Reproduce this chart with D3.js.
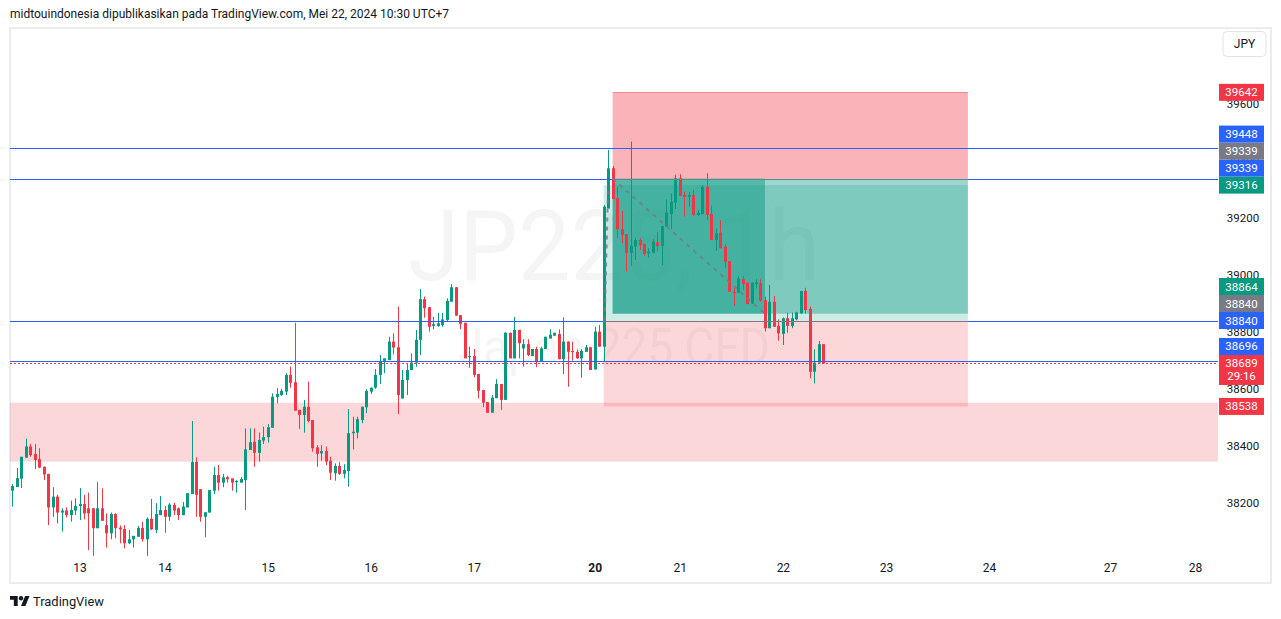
<!DOCTYPE html>
<html><head><meta charset="utf-8">
<script src="https://cdn.jsdelivr.net/npm/d3@7"></script>
<style>
html,body{margin:0;padding:0;background:#fff;overflow:hidden}
svg{display:block}
text{font-family:"Trebuchet MS",Roboto,"Liberation Sans",sans-serif}
</style>
</head><body>
<svg id="c" width="1281" height="619"></svg>
<script>
// ---------- data ----------
const opens  = [38242,38255,38284,38358,38397,38371,38353,38326,38301,38183,38221,38165,38172,38156,38172,38188,38195,38180,38180,38110,38180,38121,38092,38160,38112,38107,38057,38071,38080,38111,38071,38143,38104,38156,38174,38150,38192,38180,38156,38183,38230,38343,38247,38150,38165,38242,38297,38270,38289,38285,38272,38270,38279,38385,38414,38375,38418,38430,38463,38571,38578,38590,38649,38623,38526,38508,38537,38490,38394,38373,38381,38347,38303,38329,38301,38311,38444,38446,38490,38535,38590,38604,38649,38698,38701,38766,38746,38566,38631,38666,38692,38772,38915,38887,38821,38821,38824,38842,38906,38957,38859,38832,38711,38715,38652,38596,38553,38516,38567,38617,38561,38797,38707,38807,38742,38757,38715,38740,38695,38740,38777,38787,38793,38704,38766,38733,38730,38707,38730,38746,38668,38801,38748,39234,39375,39270,39161,39144,39078,39100,39123,39109,39076,39078,39115,39102,39170,39214,39254,39340,39281,39275,39281,39211,39214,39310,39214,39123,39149,39100,39049,38941,38938,38985,38973,38900,38968,38971,38912,38813,38906,38821,38793,38848,38821,38844,38865,38944,38881,38660,38692,38757];
const highs  = [38265,38322,38361,38425,38406,38406,38391,38326,38301,38254,38227,38180,38183,38207,38215,38251,38227,38235,38180,38273,38250,38162,38165,38163,38120,38121,38104,38083,38118,38133,38148,38213,38198,38223,38188,38198,38200,38183,38202,38233,38487,38359,38247,38166,38244,38326,38332,38301,38294,38285,38279,38290,38461,38461,38461,38446,38467,38476,38584,38602,38600,38655,38678,38832,38526,38561,38625,38490,38402,38402,38397,38361,38338,38343,38335,38529,38502,38502,38537,38599,38604,38669,38719,38707,38783,38795,38889,38666,38690,38725,38807,38951,38924,38887,38853,38867,38867,38918,38968,38958,38859,38832,38748,38740,38652,38596,38553,38578,38634,38617,38799,38797,38853,38807,38774,38774,38740,38748,38748,38783,38809,38797,38809,38851,38766,38766,38738,38740,38754,38746,38818,38824,39246,39439,39383,39310,39225,39144,39469,39129,39129,39111,39094,39126,39152,39172,39266,39287,39352,39354,39293,39293,39299,39229,39316,39358,39243,39164,39193,39109,39049,38953,38997,38997,38973,38973,38985,38985,38924,38965,38926,38844,38851,38868,38868,38871,38944,38955,38889,38739,38768,38757];
const lows   = [38186,38255,38251,38358,38361,38318,38321,38279,38121,38150,38127,38098,38148,38133,38156,38139,38141,38033,38013,38110,38136,38042,38071,38075,38057,38039,38054,38042,38080,38063,38013,38104,38092,38156,38094,38136,38156,38139,38156,38183,38230,38150,38133,38078,38165,38230,38242,38254,38270,38242,38235,38270,38174,38385,38326,38344,38406,38411,38463,38549,38575,38578,38604,38523,38459,38446,38482,38379,38326,38347,38332,38279,38277,38297,38285,38256,38387,38426,38479,38514,38582,38600,38617,38655,38701,38721,38511,38566,38578,38666,38678,38719,38850,38801,38809,38818,38818,38836,38906,38857,38809,38707,38674,38641,38566,38535,38516,38516,38567,38526,38561,38707,38707,38707,38678,38715,38715,38676,38695,38740,38777,38785,38704,38652,38607,38699,38705,38639,38730,38666,38668,38748,38695,39234,39267,39129,39111,39012,39032,39053,39088,39067,39062,39076,39082,39035,39170,39161,39232,39278,39205,39240,39207,39207,39214,39193,39123,39085,39094,39024,38941,38892,38936,38947,38897,38898,38953,38906,38801,38813,38818,38769,38754,38797,38813,38841,38865,38865,38637,38619,38692,38689];
const closes = [38258,38286,38361,38397,38367,38350,38323,38299,38183,38221,38165,38172,38156,38174,38188,38195,38162,38162,38110,38180,38136,38092,38160,38110,38106,38057,38071,38083,38111,38071,38143,38106,38160,38174,38150,38193,38172,38156,38186,38233,38343,38227,38150,38166,38244,38297,38270,38289,38282,38270,38276,38283,38387,38412,38375,38420,38430,38465,38572,38582,38593,38649,38621,38523,38508,38537,38487,38391,38371,38381,38344,38305,38329,38301,38315,38444,38449,38493,38537,38593,38604,38649,38698,38707,38766,38745,38578,38631,38666,38692,38772,38915,38883,38818,38827,38830,38844,38909,38957,38857,38828,38707,38715,38649,38593,38551,38516,38569,38617,38561,38797,38707,38807,38760,38757,38719,38740,38695,38742,38783,38790,38797,38704,38766,38730,38729,38707,38733,38746,38666,38801,38748,39240,39375,39267,39161,39141,39078,39102,39123,39105,39074,39082,39117,39102,39172,39219,39258,39340,39278,39275,39281,39211,39219,39310,39211,39123,39147,39094,39047,38941,38936,38988,38968,38898,38973,38974,38910,38813,38906,38818,38795,38848,38821,38848,38868,38944,38877,38660,38692,38757,38689];

const dayIdx    = [15, 34, 57, 80, 103, 130, 149, 172, 195, 218, 245, 264];
const dayLabels = ["13","14","15","16","17","20","21","22","23","24","27","28"];
const boldDays  = ["20"];
const priceTicks = [38200, 38400, 38600, 38800, 39000, 39200, 39400, 39600];

const hLines    = [39448, 39339, 38840, 38696];   // blue horizontal lines
const zoneBand  = [38551, 38344];                 // pink support band
const lastPrice = 38689;
const countdown = "29:16";
// position tools: [entry, stop, target, startIdx, endIdx, exitIdx]
const shortPos  = [39339, 39642, 38864, 134, 213.3, 168];
const longPos   = [38840, 38538, 39316, 132, 213.3, 133];

const headerText = "midtouindonesia dipublikasikan pada TradingView.com, Mei 22, 2024 10:30 UTC+7";
const wmTitle = "JP225, 1h";
const wmSub   = "Japan 225 CFD";

// ---------- layout ----------
const UP = "#089981", DN = "#f23645", BLUE = "#2962ff", GRAY = "#787b86", TXT = "#131722";
const pane = {l: 10, r: 1218, t: 28, b: 557};
const svg = d3.select("#c");

const xs = d3.scaleLinear().domain([0, 181]).range([12.3, 823.2]);
const ys = d3.scaleLinear().domain([38200, 39600]).range([502.6, 104.3]);

// header
svg.append("text").attr("x", 10).attr("y", 18).attr("font-size", 13)
  .attr("fill", TXT).attr("textLength", 439).attr("lengthAdjust", "spacingAndGlyphs").text(headerText);

// frame
svg.append("rect").attr("x", 10).attr("y", 28).attr("width", 1261).attr("height", 555)
  .attr("fill", "#fff").attr("stroke", "#ebebf0").attr("stroke-width", 2);

svg.append("clipPath").attr("id", "pc").append("rect")
  .attr("x", pane.l).attr("y", pane.t).attr("width", pane.r - pane.l).attr("height", pane.b - pane.t);
const g = svg.append("g").attr("clip-path", "url(#pc)");

// watermark
const cx = (pane.l + pane.r) / 2;
g.append("text").attr("x", cx).attr("y", 280).attr("text-anchor", "middle")
  .attr("font-size", 99).attr("fill", "rgba(19,23,34,0.045)")
  .attr("textLength", 412).attr("lengthAdjust", "spacingAndGlyphs").text(wmTitle);
g.append("text").attr("x", cx).attr("y", 365).attr("text-anchor", "middle")
  .attr("font-size", 52).attr("fill", "rgba(19,23,34,0.045)")
  .attr("textLength", 312).attr("lengthAdjust", "spacingAndGlyphs").text(wmSub);

// pink band
g.append("rect").attr("x", pane.l).attr("width", pane.r - pane.l)
  .attr("y", ys(zoneBand[0])).attr("height", ys(zoneBand[1]) - ys(zoneBand[0]))
  .attr("fill", "rgba(242,54,69,0.2)");

function posRect(x0, x1, p0, p1, fill) {
  const ya = ys(Math.max(p0, p1)), yb = ys(Math.min(p0, p1));
  g.append("rect").attr("x", xs(x0)).attr("width", xs(x1) - xs(x0))
    .attr("y", ya).attr("height", yb - ya).attr("fill", fill);
}
// long position (alpha .2)
posRect(longPos[3], longPos[4], longPos[0], longPos[2], "rgba(8,153,129,0.2)");
posRect(longPos[3], longPos[4], longPos[0], longPos[1], "rgba(242,54,69,0.2)");
// short position (alpha .4)
posRect(shortPos[3], shortPos[4], shortPos[0], shortPos[1], "rgba(242,54,69,0.38)");
posRect(shortPos[3], shortPos[4], shortPos[0], shortPos[2], "rgba(8,153,129,0.4)");
posRect(shortPos[3], shortPos[5], shortPos[0], shortPos[2], "rgba(8,153,129,0.48)");
g.append("line").attr("x1", xs(shortPos[3])).attr("x2", xs(shortPos[4]))
  .attr("y1", Math.round(ys(shortPos[1])) + 0.5).attr("y2", Math.round(ys(shortPos[1])) + 0.5)
  .attr("stroke", "rgba(242,54,69,0.45)");

// candles
const data = opens.map((o, i) => ({i, o, h: highs[i], l: lows[i], c: closes[i]}));
const cg = g.append("g");
cg.selectAll("line.w").data(data).join("line")
  .attr("x1", d => Math.round(xs(d.i)) + 0.5).attr("x2", d => Math.round(xs(d.i)) + 0.5)
  .attr("y1", d => ys(d.h)).attr("y2", d => ys(d.l))
  .attr("stroke", d => d.c >= d.o ? UP : DN).attr("stroke-width", 1);
cg.selectAll("rect.b").data(data).join("rect")
  .attr("x", d => Math.round(xs(d.i)) - 1).attr("width", 3)
  .attr("y", d => ys(Math.max(d.o, d.c)))
  .attr("height", d => Math.max(1, Math.abs(ys(d.o) - ys(d.c))))
  .attr("fill", d => d.c >= d.o ? UP : DN);

// horizontal lines
hLines.forEach(p => {
  const y = Math.round(ys(p)) + 0.5;
  g.append("line").attr("x1", pane.l).attr("x2", pane.r).attr("y1", y).attr("y2", y)
    .attr("stroke", BLUE).attr("stroke-width", 1);
});
// entry lines of positions
[shortPos, longPos].forEach(ps => {
  const y = Math.round(ys(ps[0])) + 0.5;
  g.append("line").attr("x1", xs(ps[3])).attr("x2", xs(ps[4])).attr("y1", y).attr("y2", y)
    .attr("stroke", GRAY).attr("stroke-width", 1);
});
// trade path dashed lines
g.append("line").attr("x1", xs(shortPos[3])).attr("y1", ys(shortPos[0]))
  .attr("x2", xs(shortPos[5])).attr("y2", ys(shortPos[2]))
  .attr("stroke", "rgba(120,123,134,0.85)").attr("stroke-width", 2).attr("stroke-dasharray", "4,5");
g.append("line").attr("x1", xs(longPos[3]) + 1).attr("y1", ys(longPos[0]))
  .attr("x2", xs(longPos[5])).attr("y2", ys(longPos[2]))
  .attr("stroke", "rgba(120,123,134,0.85)").attr("stroke-width", 2).attr("stroke-dasharray", "4,5");

// last price dotted line
{
  const y = Math.round(ys(lastPrice)) + 0.5;
  g.append("line").attr("x1", pane.l).attr("x2", pane.r).attr("y1", y).attr("y2", y)
    .attr("stroke", DN).attr("stroke-width", 1.2).attr("stroke-dasharray", "2,2");
}

// time axis
const xAxis = d3.axisBottom(xs).tickValues(dayIdx).tickSize(0).tickPadding(0)
  .tickFormat((d, i) => dayLabels[i]);
const xa = svg.append("g").attr("transform", "translate(0,563)").call(xAxis);
xa.select(".domain").remove();
xa.selectAll("text").attr("font-size", 12).attr("fill", TXT)
  .attr("font-family", "\"Trebuchet MS\",Roboto,sans-serif")
  .attr("font-weight", d => boldDays.includes(dayLabels[dayIdx.indexOf(d)]) ? 700 : 400);

// price axis
const yAxis = d3.axisRight(ys).tickValues(priceTicks).tickSize(0).tickPadding(0)
  .tickFormat(d3.format("d"));
const ya = svg.append("g").attr("transform", "translate(1243,0)").call(yAxis);
ya.select(".domain").remove();
ya.selectAll("text").attr("font-size", 11.5).attr("fill", TXT).attr("text-anchor", "middle")
  .attr("font-family", "\"Trebuchet MS\",Roboto,sans-serif");

// currency box
svg.append("rect").attr("x", 1223).attr("y", 31.5).attr("width", 43).attr("height", 25)
  .attr("rx", 4).attr("fill", "#fff").attr("stroke", "#e0e3eb");
svg.append("text").attr("x", 1244.5).attr("y", 48).attr("text-anchor", "middle")
  .attr("font-size", 12).attr("fill", TXT).text("JPY");

// price labels (pushed upward on overlap, TradingView style)
const labels = [
  {p: longPos[1],  col: DN,   ord: 0},
  {p: lastPrice,   col: DN,   ord: 0, sub: countdown},
  {p: hLines[3],   col: BLUE, ord: 0},
  {p: hLines[2],   col: BLUE, ord: 0},
  {p: longPos[0],  col: GRAY, ord: 1},
  {p: shortPos[2], col: UP,   ord: 0},
  {p: longPos[2],  col: UP,   ord: 0},
  {p: hLines[1],   col: BLUE, ord: 0},
  {p: shortPos[0], col: GRAY, ord: 1},
  {p: hLines[0],   col: BLUE, ord: 0},
  {p: shortPos[1], col: DN,   ord: 0}
];
labels.sort((a, b) => (ys(b.p) - ys(a.p)) || (a.ord - b.ord));
const LH = 17;
let prevTop = Infinity;
labels.forEach(lb => {
  const h = lb.sub ? 30 : LH;
  let top = ys(lb.p) - LH / 2;
  if (top + h > prevTop) top = prevTop - h;
  prevTop = top;
  svg.append("rect").attr("x", 1219).attr("y", top).attr("width", 45).attr("height", h)
    .attr("fill", lb.col);
  svg.append("text").attr("x", 1241.5).attr("y", top + 12.5).attr("text-anchor", "middle")
    .attr("font-size", 11.5).attr("fill", "#fff").text(d3.format("d")(lb.p));
  if (lb.sub) svg.append("text").attr("x", 1241.5).attr("y", top + 25.5).attr("text-anchor", "middle")
    .attr("font-size", 11.5).attr("fill", "#fff").text(lb.sub);
});

// footer logo
const lg = svg.append("g").attr("transform", "translate(10,593.8) scale(0.55)").attr("fill", TXT);
lg.append("path").attr("d", "M14 22H7V11H0V4h14v18zM28 22h-8l7.5-18h8L28 22z");
lg.append("circle").attr("cx", 20).attr("cy", 8).attr("r", 4);
svg.append("text").attr("x", 33).attr("y", 606).attr("font-size", 13).attr("fill", TXT)
  .attr("textLength", 71).attr("lengthAdjust", "spacingAndGlyphs").text("TradingView");
</script>
</body></html>
